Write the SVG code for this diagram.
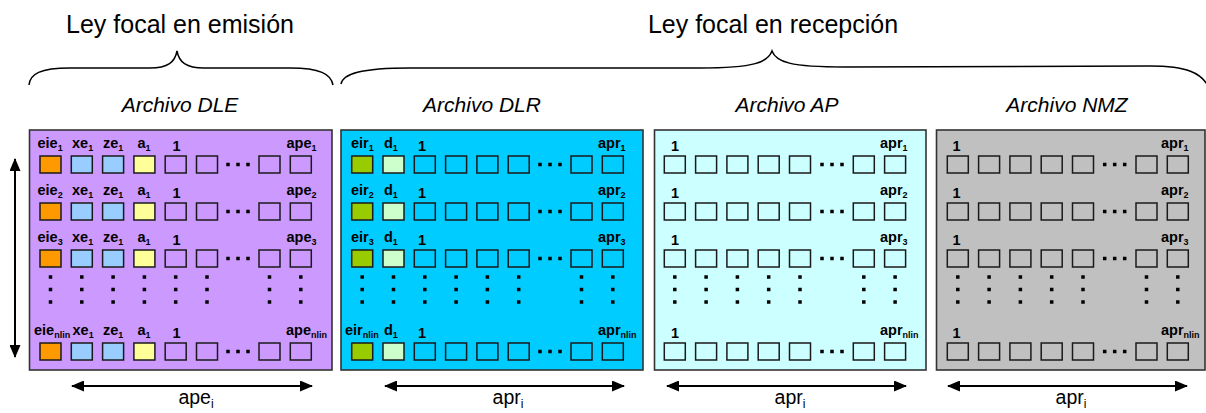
<svg xmlns="http://www.w3.org/2000/svg" xmlns:xlink="http://www.w3.org/1999/xlink" width="1206" height="413" viewBox="0 0 1206 413">
  <style>
    .panel { stroke: #333; stroke-width: 1.6; }
    .sq { fill: none; stroke: #1a1a1a; stroke-width: 1.5; }
    .or { fill: #FF9900; }
    .lb { fill: #99CCFF; }
    .ye { fill: #FFFF99; }
    .gr { fill: #99CC00; }
    .pg { fill: #CCFFCC; }
    .dot { fill: #000; }
    .head { font-family: "Liberation Sans", Arial, sans-serif; font-size: 25px; fill: #000; text-anchor: middle; }
    .title { font-family: "Liberation Sans", Arial, sans-serif; font-size: 21px; font-style: italic; fill: #000; text-anchor: middle; }
    .lbl { font-family: "Liberation Sans", Arial, sans-serif; font-size: 14.5px; font-weight: bold; fill: #000; }
    .sub { font-size: 9px; }
    .dim { font-family: "Liberation Sans", Arial, sans-serif; font-size: 19.5px; fill: #000; text-anchor: middle; }
    .dsub { font-size: 12px; }
    .brace { fill: none; stroke: #000; stroke-width: 1.5; }
    .arrow { fill: none; stroke: #000; stroke-width: 2; marker-start: url(#ah); marker-end: url(#ah); }
  </style>
  <defs>
    <marker id="ah" markerUnits="userSpaceOnUse" markerWidth="13" markerHeight="11" refX="12" refY="5.5" orient="auto-start-reverse">
      <path d="M0,0 L13,5.5 L0,11 z" fill="#000"/>
    </marker>
    <!-- three dots in a row, centred on 0,0 -->
    <g id="hdots" class="dot">
      <rect x="-11.75" y="-1.75" width="3.5" height="3.5"/>
      <rect x="-1.75" y="-1.75" width="3.5" height="3.5"/>
      <rect x="8.25" y="-1.75" width="3.5" height="3.5"/>
    </g>
    <!-- three dots in a column, top dot centred on 0,0 -->
    <g id="vdots" class="dot">
      <rect x="-1.75" y="-1.75" width="3.5" height="3.5"/>
      <rect x="-1.75" y="10.75" width="3.5" height="3.5"/>
      <rect x="-1.75" y="23.25" width="3.5" height="3.5"/>
    </g>
    <!-- one row of cells, top at y=156 -->
    <g id="rowDLE">
      <rect class="sq or" x="40" y="156" width="21" height="17"/>
      <rect class="sq lb" x="71.3" y="156" width="21" height="17"/>
      <rect class="sq lb" x="102.6" y="156" width="21" height="17"/>
      <rect class="sq ye" x="133.9" y="156" width="21" height="17"/>
      <rect class="sq" x="165.2" y="156" width="21" height="17"/>
      <rect class="sq" x="196.5" y="156" width="21" height="17"/>
      <use xlink:href="#hdots" x="238" y="164.5"/>
      <rect class="sq" x="259" y="156" width="21" height="17"/>
      <rect class="sq" x="290.3" y="156" width="21" height="17"/>
    </g>
    <g id="rowDLR">
      <rect class="sq gr" x="351.7" y="156" width="21" height="17"/>
      <rect class="sq pg" x="383" y="156" width="21" height="17"/>
      <rect class="sq" x="414.3" y="156" width="21" height="17"/>
      <rect class="sq" x="445.6" y="156" width="21" height="17"/>
      <rect class="sq" x="476.9" y="156" width="21" height="17"/>
      <rect class="sq" x="508.2" y="156" width="21" height="17"/>
      <use xlink:href="#hdots" x="550" y="164.5"/>
      <rect class="sq" x="571" y="156" width="21" height="17"/>
      <rect class="sq" x="602.3" y="156" width="21" height="17"/>
    </g>
    <g id="rowAP">
      <rect class="sq" x="664.3" y="156" width="21" height="17"/>
      <rect class="sq" x="695.6" y="156" width="21" height="17"/>
      <rect class="sq" x="726.9" y="156" width="21" height="17"/>
      <rect class="sq" x="758.2" y="156" width="21" height="17"/>
      <rect class="sq" x="789.5" y="156" width="21" height="17"/>
      <use xlink:href="#hdots" x="832" y="164.5"/>
      <rect class="sq" x="853.3" y="156" width="21" height="17"/>
      <rect class="sq" x="884.6" y="156" width="21" height="17"/>
    </g>
    <g id="rowNMZ">
      <rect class="sq" x="947.3" y="156" width="21" height="17"/>
      <rect class="sq" x="978.6" y="156" width="21" height="17"/>
      <rect class="sq" x="1009.9" y="156" width="21" height="17"/>
      <rect class="sq" x="1041.2" y="156" width="21" height="17"/>
      <rect class="sq" x="1072.5" y="156" width="21" height="17"/>
      <use xlink:href="#hdots" x="1114.7" y="164.5"/>
      <rect class="sq" x="1136" y="156" width="21" height="17"/>
      <rect class="sq" x="1167.3" y="156" width="21" height="17"/>
    </g>
  </defs>

  <rect width="1206" height="413" fill="#fff"/>

  <!-- section headings with braces -->
  <g id="heading-emision">
    <text class="head" x="180" y="33">Ley focal en emisión</text>
    <path class="brace" d="M29,85 C30,74 40,68 70,68 L150,68 C168,68 175,62 177,51 C179,62 186,68 204,68 L290,68 C320,68 331,74 333,85"/>
  </g>
  <g id="heading-recepcion">
    <text class="head" x="773" y="33">Ley focal en recepción</text>
    <path class="brace" d="M341,84 C343,74 360,68 410,68 L700,68 C755,68 768,62 772,51 C776,62 790,67 845,67 L1150,66 C1185,66 1203,72 1210,90"/>
  </g>

  <!-- DLE file -->
  <g id="dle">
    <text class="title" x="180" y="112">Archivo DLE</text>
    <rect class="panel" x="29.5" y="130" width="302.5" height="240" fill="#CC99FF"/>
    <use xlink:href="#rowDLE"/>
    <use xlink:href="#rowDLE" y="47"/>
    <use xlink:href="#rowDLE" y="94"/>
    <use xlink:href="#rowDLE" y="187"/>
    <g>
      <use xlink:href="#vdots" x="50.5" y="277"/><use xlink:href="#vdots" x="81.8" y="277"/>
      <use xlink:href="#vdots" x="113.1" y="277"/><use xlink:href="#vdots" x="144.4" y="277"/>
      <use xlink:href="#vdots" x="175.7" y="277"/><use xlink:href="#vdots" x="207" y="277"/>
      <use xlink:href="#vdots" x="269.5" y="277"/><use xlink:href="#vdots" x="300.8" y="277"/>
    </g>
    <g class="lbl">
      <text x="37.5" y="148">eie<tspan class="sub" dy="3">1</tspan></text>
      <text x="72" y="148">xe<tspan class="sub" dy="3">1</tspan></text>
      <text x="103" y="148">ze<tspan class="sub" dy="3">1</tspan></text>
      <text x="137.5" y="148">a<tspan class="sub" dy="3">1</tspan></text>
      <text x="172.5" y="151">1</text>
      <text x="286.5" y="148">ape<tspan class="sub" dy="3">1</tspan></text>

      <text x="37.5" y="195">eie<tspan class="sub" dy="3">2</tspan></text>
      <text x="72" y="195">xe<tspan class="sub" dy="3">1</tspan></text>
      <text x="103" y="195">ze<tspan class="sub" dy="3">1</tspan></text>
      <text x="137.5" y="195">a<tspan class="sub" dy="3">1</tspan></text>
      <text x="172.5" y="198">1</text>
      <text x="286.5" y="195">ape<tspan class="sub" dy="3">2</tspan></text>

      <text x="37.5" y="242">eie<tspan class="sub" dy="3">3</tspan></text>
      <text x="72" y="242">xe<tspan class="sub" dy="3">1</tspan></text>
      <text x="103" y="242">ze<tspan class="sub" dy="3">1</tspan></text>
      <text x="137.5" y="242">a<tspan class="sub" dy="3">1</tspan></text>
      <text x="172.5" y="245">1</text>
      <text x="286.5" y="242">ape<tspan class="sub" dy="3">3</tspan></text>

      <text x="34" y="335">eie<tspan class="sub" dy="3">nlin</tspan></text>
      <text x="72.5" y="335">xe<tspan class="sub" dy="3">1</tspan></text>
      <text x="103" y="335">ze<tspan class="sub" dy="3">1</tspan></text>
      <text x="137.5" y="335">a<tspan class="sub" dy="3">1</tspan></text>
      <text x="172.5" y="338">1</text>
      <text x="286" y="335">ape<tspan class="sub" dy="3">nlin</tspan></text>
    </g>
  </g>

  <!-- DLR file -->
  <g id="dlr">
    <text class="title" x="482" y="112">Archivo DLR</text>
    <rect class="panel" x="341" y="130" width="302" height="240" fill="#00CCFF"/>
    <use xlink:href="#rowDLR"/>
    <use xlink:href="#rowDLR" y="47"/>
    <use xlink:href="#rowDLR" y="94"/>
    <use xlink:href="#rowDLR" y="187"/>
    <g>
      <use xlink:href="#vdots" x="362.2" y="277"/><use xlink:href="#vdots" x="393.5" y="277"/>
      <use xlink:href="#vdots" x="424.8" y="277"/><use xlink:href="#vdots" x="456.1" y="277"/>
      <use xlink:href="#vdots" x="487.4" y="277"/><use xlink:href="#vdots" x="518.7" y="277"/>
      <use xlink:href="#vdots" x="581.5" y="277"/><use xlink:href="#vdots" x="612.8" y="277"/>
    </g>
    <g class="lbl">
      <text x="351" y="148">eir<tspan class="sub" dy="3">1</tspan></text>
      <text x="384" y="148">d<tspan class="sub" dy="3">1</tspan></text>
      <text x="418" y="151">1</text>
      <text x="598" y="148">apr<tspan class="sub" dy="3">1</tspan></text>

      <text x="351" y="195">eir<tspan class="sub" dy="3">2</tspan></text>
      <text x="384" y="195">d<tspan class="sub" dy="3">1</tspan></text>
      <text x="418" y="198">1</text>
      <text x="598" y="195">apr<tspan class="sub" dy="3">2</tspan></text>

      <text x="351" y="242">eir<tspan class="sub" dy="3">3</tspan></text>
      <text x="384" y="242">d<tspan class="sub" dy="3">1</tspan></text>
      <text x="418" y="245">1</text>
      <text x="598" y="242">apr<tspan class="sub" dy="3">3</tspan></text>

      <text x="345" y="335">eir<tspan class="sub" dy="3">nlin</tspan></text>
      <text x="384" y="335">d<tspan class="sub" dy="3">1</tspan></text>
      <text x="418" y="338">1</text>
      <text x="598" y="335">apr<tspan class="sub" dy="3">nlin</tspan></text>
    </g>
  </g>

  <!-- AP file -->
  <g id="ap">
    <text class="title" x="787" y="112">Archivo AP</text>
    <rect class="panel" x="654.5" y="130" width="271.5" height="240" fill="#CCFFFF"/>
    <use xlink:href="#rowAP"/>
    <use xlink:href="#rowAP" y="47"/>
    <use xlink:href="#rowAP" y="94"/>
    <use xlink:href="#rowAP" y="187"/>
    <g>
      <use xlink:href="#vdots" x="674.8" y="277"/><use xlink:href="#vdots" x="706.1" y="277"/>
      <use xlink:href="#vdots" x="737.4" y="277"/><use xlink:href="#vdots" x="768.7" y="277"/>
      <use xlink:href="#vdots" x="800" y="277"/>
      <use xlink:href="#vdots" x="863.8" y="277"/><use xlink:href="#vdots" x="895.1" y="277"/>
    </g>
    <g class="lbl">
      <text x="671" y="151">1</text>
      <text x="880" y="148">apr<tspan class="sub" dy="3">1</tspan></text>
      <text x="671" y="198">1</text>
      <text x="880" y="195">apr<tspan class="sub" dy="3">2</tspan></text>
      <text x="671" y="245">1</text>
      <text x="880" y="242">apr<tspan class="sub" dy="3">3</tspan></text>
      <text x="671" y="338">1</text>
      <text x="880" y="335">apr<tspan class="sub" dy="3">nlin</tspan></text>
    </g>
  </g>

  <!-- NMZ file -->
  <g id="nmz">
    <text class="title" x="1067" y="112">Archivo NMZ</text>
    <rect class="panel" x="936.5" y="130" width="268.5" height="240" fill="#C0C0C0"/>
    <use xlink:href="#rowNMZ"/>
    <use xlink:href="#rowNMZ" y="47"/>
    <use xlink:href="#rowNMZ" y="94"/>
    <use xlink:href="#rowNMZ" y="187"/>
    <g>
      <use xlink:href="#vdots" x="957.8" y="277"/><use xlink:href="#vdots" x="989.1" y="277"/>
      <use xlink:href="#vdots" x="1020.4" y="277"/><use xlink:href="#vdots" x="1051.7" y="277"/>
      <use xlink:href="#vdots" x="1083" y="277"/>
      <use xlink:href="#vdots" x="1146.5" y="277"/><use xlink:href="#vdots" x="1177.8" y="277"/>
    </g>
    <g class="lbl">
      <text x="952.5" y="151">1</text>
      <text x="1161" y="148">apr<tspan class="sub" dy="3">1</tspan></text>
      <text x="952.5" y="198">1</text>
      <text x="1161" y="195">apr<tspan class="sub" dy="3">2</tspan></text>
      <text x="952.5" y="245">1</text>
      <text x="1161" y="242">apr<tspan class="sub" dy="3">3</tspan></text>
      <text x="952.5" y="338">1</text>
      <text x="1161" y="335">apr<tspan class="sub" dy="3">nlin</tspan></text>
    </g>
  </g>

  <!-- dimension arrows -->
  <g id="connectors">
    <line class="arrow" x1="15" y1="159" x2="15" y2="357"/>
    <line class="arrow" x1="72" y1="386" x2="312" y2="386"/>
    <line class="arrow" x1="385" y1="386" x2="624" y2="386"/>
    <line class="arrow" x1="667" y1="386" x2="906" y2="386"/>
    <line class="arrow" x1="948" y1="386" x2="1187" y2="386"/>
  </g>
  <g id="dim-labels" class="dim">
    <text x="196" y="404">ape<tspan class="dsub" dy="4">i</tspan></text>
    <text x="508" y="404">apr<tspan class="dsub" dy="4">i</tspan></text>
    <text x="790" y="404">apr<tspan class="dsub" dy="4">i</tspan></text>
    <text x="1071" y="404">apr<tspan class="dsub" dy="4">i</tspan></text>
  </g>
</svg>
